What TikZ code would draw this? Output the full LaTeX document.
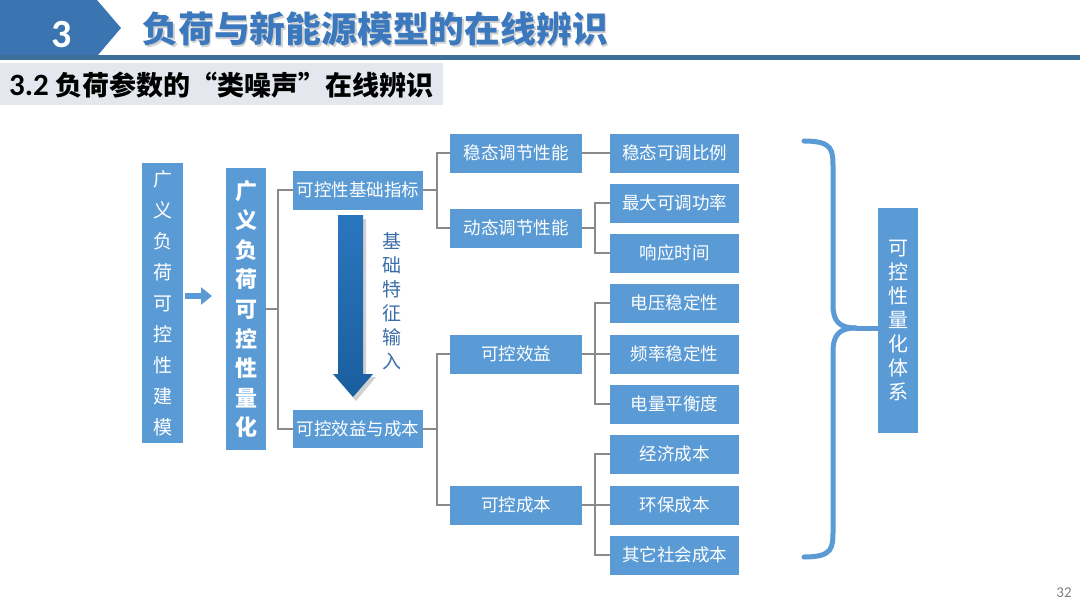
\documentclass[tikz,border=0pt]{standalone}
\usepackage{fontspec}
\setmainfont{Noto Sans CJK SC}
\newfontfamily\lat{Carlito}
\newfontfamily\cjkq[RawFeature=+fwid]{Noto Sans CJK SC}
\usetikzlibrary{calc,arrows.meta}
\definecolor{boxblue}{HTML}{5B9BD5}
\definecolor{linegray}{HTML}{8A8A8A}
\definecolor{headblue}{HTML}{3A74B1}
\definecolor{headline}{HTML}{3D6F99}
\definecolor{titleblue}{HTML}{3B78BD}
\definecolor{bandgray}{HTML}{E4E8EE}
\definecolor{arrowtop}{HTML}{2A76BE}
\definecolor{arrowbot}{HTML}{1A5E9E}
\definecolor{labelblue}{HTML}{3A6EA8}
\begin{document}
\begin{tikzpicture}[x=1pt,y=-1pt,
  box/.style={fill=boxblue, text=white, inner sep=0pt, font=\fontsize{17.5}{20}\selectfont},
  topbox/.style={box, minimum width=130pt, minimum height=39pt},
  mid/.style={box, minimum width=132pt, minimum height=39pt},
  leaf/.style={box, minimum width=129pt, minimum height=39pt},
  vbox/.style={fill=boxblue, text=white, inner sep=0pt, align=center},
  conn/.style={draw=linegray, line width=1.1pt},
  brace/.style={draw=boxblue, line width=5pt, line cap=round},
]
\useasboundingbox (0,0) rectangle (1080,608);
\fill[white] (0,0) rectangle (1080,608);

% header
\fill[headblue] (0,0) -- (97,0) -- (121,28) -- (98,55) -- (0,55) -- cycle;
\fill[headline] (0,55) rectangle (1080,59.5);
\fill[bandgray] (0,63) rectangle (443,105);
\node (num) at (62,35) {\lat\bfseries\fontsize{40}{42}\selectfont\color{white}3};
\node[anchor=west, text=gray!60, opacity=0.6] (titleshadow) at (140.5,30.5) {\bfseries\fontsize{35.8}{38}\selectfont 负荷与新能源模型的在线辨识};
\node[anchor=west, text=titleblue] (title) at (139,29) {\bfseries\fontsize{35.8}{38}\selectfont 负荷与新能源模型的在线辨识};
\node[anchor=west, inner sep=0pt] (subtitle) at (9,85) {\bfseries\fontsize{27}{29}\selectfont{\lat\bfseries\fontsize{31}{32}\selectfont 3.2 }负荷参数的{\cjkq\bfseries “}类噪声{\cjkq\bfseries ”}在线辨识};

% vertical boxes
\node[vbox, minimum width=41pt, minimum height=280pt, font=\fontsize{19}{31}\selectfont] (b1) at (162.5,303)
  {广\\义\\负\\荷\\可\\控\\性\\建\\模};
\node[vbox, minimum width=40pt, minimum height=282pt, font=\bfseries\fontsize{22}{29.6}\selectfont] (b2) at (246,309)
  {广\\义\\负\\荷\\可\\控\\性\\量\\化};
\node[vbox, minimum width=40pt, minimum height=225pt, font=\fontsize{20}{24}\selectfont] (b3) at (898,320.5)
  {可\\控\\性\\量\\化\\体\\系};

% small arrow
\coordinate (sa1) at (185,296);
\coordinate (sa2) at (212,296);
\draw[boxblue, line width=6pt, -{Triangle[length=11pt,width=17pt]}] (sa1) -- (sa2);

% level 2
\node[topbox] (n1) at (358,190) {可控性基础指标};
\node[topbox, minimum height=38pt] (n2) at (358,429) {可控效益与成本};

% big arrow
\fill[black, opacity=0.18] (341,219) -- (366,219) -- (366,377) -- (376,377) -- (356,401) -- (336,377) -- (341,377) -- cycle;
\shade[top color=arrowtop, bottom color=arrowbot] (338,215) -- (363,215) -- (363,374) -- (373,374) -- (353,397) -- (333,374) -- (338,374) -- cycle;
\node[text=labelblue, align=center, font=\fontsize{19}{24}\selectfont] (lab) at (392,301) {基\\础\\特\\征\\输\\入};

% level 3
\node[mid] (m1) at (516,153) {稳态调节性能};
\node[mid] (m2) at (516,228) {动态调节性能};
\node[mid] (m3) at (516,354) {可控效益};
\node[mid] (m4) at (516,505) {可控成本};

% leaves
\node[leaf] (r1) at (674.5,153) {稳态可调比例};
\node[leaf] (r2) at (674.5,203) {最大可调功率};
\node[leaf] (r3) at (674.5,253) {响应时间};
\node[leaf] (r4) at (674.5,303) {电压稳定性};
\node[leaf] (r5) at (674.5,354) {频率稳定性};
\node[leaf] (r6) at (674.5,404) {电量平衡度};
\node[leaf] (r7) at (674.5,454) {经济成本};
\node[leaf] (r8) at (674.5,505) {环保成本};
\node[leaf] (r9) at (674.5,555) {其它社会成本};

% connectors
\coordinate (j1) at (278,0);
\coordinate (j2) at (437,0);
\coordinate (j3) at (595,0);
\draw[conn] (b2.east) -- (b2.east -| j1);
\draw[conn] (n1.west) -- (n1.west -| j1) -- (n2.west -| j1) -- (n2.west);
\draw[conn] (n1.east) -- (n1.east -| j2);
\draw[conn] (m1.west) -- (m1.west -| j2) -- (m2.west -| j2) -- (m2.west);
\draw[conn] (n2.east) -- (n2.east -| j2);
\draw[conn] (m3.west) -- (m3.west -| j2) -- (m4.west -| j2) -- (m4.west);
\draw[conn] (m1.east) -- (r1.west);
\draw[conn] (m2.east) -- (m2.east -| j3);
\draw[conn] (r2.west) -- (r2.west -| j3) -- (r3.west -| j3) -- (r3.west);
\draw[conn] (m3.east) -- (r5.west);
\draw[conn] (r4.west) -- (r4.west -| j3) -- (r6.west -| j3) -- (r6.west);
\draw[conn] (m4.east) -- (r8.west);
\draw[conn] (r7.west) -- (r7.west -| j3) -- (r9.west -| j3) -- (r9.west);

% brace
\coordinate (bt) at (804,141);
\coordinate (bm) at (856,328);
\coordinate (bb) at (804,557);
\draw[brace] (bt) .. controls (833,141) and (833,150) .. (833,168) -- (833,305) .. controls (833,322) and (840,328) .. (bm);
\draw[brace] (bm) .. controls (840,328) and (833,334) .. (833,352) -- (833,530) .. controls (833,548) and (833,557) .. (bb);
\draw[boxblue, line width=5pt] (bm) -- (bm -| b3.west);

% page number
\node[text=gray, font=\lat\fontsize{15}{16}\selectfont] (pg) at (1064,593) {32};
\end{tikzpicture}
\end{document}
